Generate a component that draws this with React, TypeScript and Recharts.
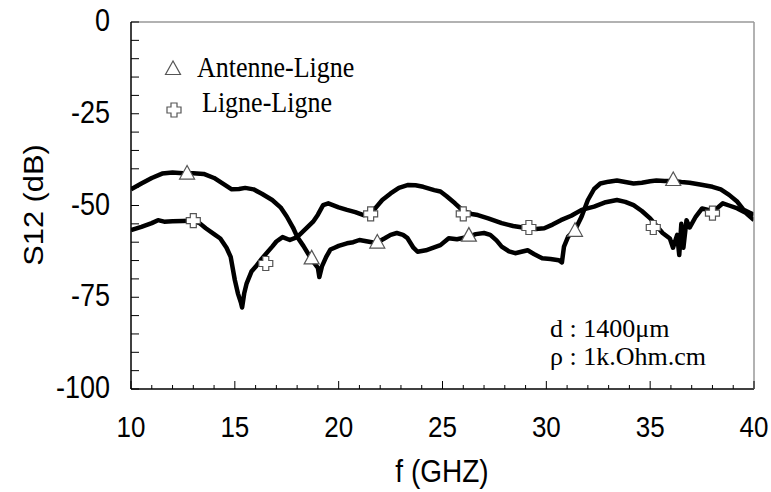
import React from 'react';
import { ComposedChart, Line, Scatter, XAxis, YAxis, Legend } from 'recharts';

// Curve A (Antenne-Ligne, triangles)
const freqA = [10.0,10.5,11.0,11.5,12.0,12.5,13.0,13.5,14.0,14.5,14.85,15.2,15.5,15.9,16.3,16.8,17.2,17.5,17.8,18.0,18.3,18.6,18.8,19.0,19.07,19.2,19.4,19.6,19.8,20.0,20.4,20.7,21.0,21.4,21.8,22.2,22.5,22.8,23.1,23.3,23.6,23.8,24.2,24.6,24.9,25.3,25.7,26.2,26.6,27.0,27.3,27.6,27.85,28.2,28.5,28.8,29.1,29.4,29.8,30.2,30.6,30.75,30.85,31.05,31.4,31.7,32.0,32.3,32.6,33.0,33.4,33.8,34.2,34.6,35.0,35.3,35.7,36.1,36.5,36.9,37.4,38.0,38.4,38.8,39.2,39.5,39.8,40.0];
const s12A = [-45.6,-44.0,-42.5,-41.3,-41.0,-41.2,-41.2,-41.4,-42.5,-44.3,-45.6,-45.5,-45.2,-45.6,-46.8,-48.5,-50.5,-53.0,-56.0,-58.5,-61.0,-63.8,-65.5,-67.0,-69.5,-66.5,-64.0,-62.0,-61.5,-61.0,-60.3,-60.0,-59.4,-59.8,-60.2,-59.0,-58.0,-57.5,-58.0,-58.8,-61.5,-62.6,-62.2,-61.4,-60.8,-58.9,-59.2,-58.6,-57.8,-57.5,-58.0,-59.5,-61.2,-62.5,-63.0,-62.6,-62.2,-63.2,-64.4,-64.6,-64.9,-65.5,-61.2,-58.5,-56.5,-53.0,-48.5,-45.5,-44.0,-43.5,-43.2,-43.6,-44.0,-43.8,-43.4,-43.2,-43.3,-43.3,-43.6,-43.8,-44.3,-44.9,-45.6,-47.1,-49.0,-51.2,-52.0,-52.5];

// Curve B (Ligne-Ligne, crosses)
const freqB = [10.0,10.5,11.0,11.3,11.6,12.0,12.5,13.0,13.3,13.6,14.0,14.3,14.6,14.8,15.0,15.15,15.3,15.35,15.45,15.57,15.8,16.0,16.3,16.6,16.8,17.0,17.3,17.65,18.0,18.3,18.77,19.0,19.25,19.5,20.0,20.4,20.8,21.2,21.5,21.8,22.1,22.5,22.9,23.35,23.7,24.07,24.6,24.9,25.2,25.6,26.0,26.4,26.7,27.2,27.85,28.4,29.1,29.5,29.9,30.3,30.7,31.2,31.7,32.3,32.8,33.4,33.8,34.2,34.6,35.0,35.3,35.6,35.95,36.1,36.3,36.4,36.5,36.6,36.75,36.9,37.2,37.5,37.8,38.0,38.5,38.8,39.2,39.6,40.0];
const s12B = [-56.7,-55.8,-54.8,-54.0,-54.4,-54.3,-54.2,-54.1,-54.8,-56.2,-57.8,-59.0,-61.5,-64.0,-70.3,-74.0,-76.6,-77.8,-74.0,-71.2,-68.0,-66.7,-64.5,-62.5,-61.2,-59.8,-58.6,-59.4,-58.6,-57.0,-54.4,-52.5,-49.9,-49.4,-50.5,-51.2,-51.8,-52.6,-52.3,-50.5,-48.5,-46.7,-45.2,-44.4,-44.5,-44.9,-45.8,-46.2,-47.5,-49.4,-51.5,-52.3,-52.6,-53.5,-54.8,-55.6,-56.2,-56.4,-56.2,-55.2,-54.0,-52.8,-51.2,-50.3,-49.2,-48.5,-49.0,-49.9,-51.5,-53.5,-55.5,-57.5,-59.0,-61.5,-58.0,-63.5,-55.0,-61.5,-54.0,-56.0,-53.0,-50.8,-51.2,-51.8,-49.4,-50.0,-50.8,-52.0,-54.0];

// Sparse symbol markers
const triFreq = [12.7, 18.7, 21.86, 26.27, 31.38, 36.11];
const triS12 = [-41.3, -64.4, -60.1, -58.2, -56.9, -43.05];
const crossFreq = [13.0, 16.49, 21.54, 26.0, 29.16, 35.15, 38.0];
const crossS12 = [-54.1, -65.8, -52.3, -52.3, -56.0, -56.0, -52.1];

// Axis ticks
const xTicks = [10,11,12,13,14,15,16,17,18,19,20,21,22,23,24,25,26,27,28,29,30,31,32,33,34,35,36,37,38,39,40];
const xLabelTicks = [10,15,20,25,30,35,40];
const yTicks = [0,-5,-10,-15,-20,-25,-30,-35,-40,-45,-50,-55,-60,-65,-70,-75,-80,-85,-90,-95,-100];
const yLabelTicks = [0,-25,-50,-75,-100];

const legendNames = ['Antenne-Ligne', 'Ligne-Ligne'];
const noteLines = ['d : 1400\u03bcm', '\u03c1 : 1k.Ohm.cm'];

const dataA = freqA.map((f, i) => ({ f, s: s12A[i] }));
const dataB = freqB.map((f, i) => ({ f, s: s12B[i] }));
const triData = triFreq.map((f, i) => ({ f, s: triS12[i] }));
const crossData = crossFreq.map((f, i) => ({ f, s: crossS12[i] }));

const SANS = '"Liberation Sans", Arial, sans-serif';
const SERIF = '"Liberation Serif", "Times New Roman", serif';
const STRETCH = 1.15;

const TriangleShape = (props: any) => {
  const { cx, cy } = props;
  if (cx == null || cy == null) return null;
  return (
    <polygon
      points={`${cx},${cy - 8} ${cx - 7.5},${cy + 5.5} ${cx + 7.5},${cy + 5.5}`}
      fill="#fff"
      stroke="#555"
      strokeWidth={1.2}
    />
  );
};

const CrossShape = (props: any) => {
  const { cx, cy } = props;
  if (cx == null || cy == null) return null;
  const a = 3, b = 7;
  const pts = [
    [-a, -b], [a, -b], [a, -a], [b, -a], [b, a], [a, a], [a, b], [-a, b], [-a, a], [-b, a], [-b, -a], [-a, -a],
  ].map(([dx, dy]) => `${cx + dx},${cy + dy}`).join(' ');
  return <polygon points={pts} fill="#fff" stroke="#555" strokeWidth={1.2} />;
};

const XTick = (props: any) => {
  const { x, y, payload } = props;
  const v = payload.value;
  const major = xLabelTicks.includes(v);
  return (
    <g>
      <line x1={x} y1={y} x2={x} y2={y - (major ? 8 : 4)} stroke="#000" strokeWidth={1} />
      {major && (
        <text
          x={0}
          y={0}
          transform={`translate(${x} ${y + 48}) scale(1 ${STRETCH})`}
          textAnchor="middle"
          fontFamily={SANS}
          fontSize={26}
          fill="#000"
        >
          {v}
        </text>
      )}
    </g>
  );
};

const YTick = (props: any) => {
  const { x, y, payload } = props;
  const v = payload.value;
  const labeled = yLabelTicks.includes(v);
  return (
    <g>
      <line x1={x} y1={y} x2={x + 8} y2={y} stroke="#000" strokeWidth={1} />
      {labeled && (
        <text
          x={0}
          y={0}
          dy="0.36em"
          transform={`translate(${x - 21} ${y - 2}) scale(1 ${STRETCH})`}
          textAnchor="end"
          fontFamily={SANS}
          fontSize={27}
          fill="#000"
        >
          {v}
        </text>
      )}
    </g>
  );
};

const renderLegend = () => (
  <svg width={240} height={80} style={{ display: 'block' }}>
    <TriangleShape cx={18} cy={19} />
    <text x={0} y={0} transform={`translate(42 27) scale(1 1.1)`} fontFamily={SERIF} fontSize={26} fill="#000">{legendNames[0]}</text>
    <CrossShape cx={19} cy={60} />
    <text x={0} y={0} transform={`translate(47 62) scale(1 1.1)`} fontFamily={SERIF} fontSize={26} fill="#000">{legendNames[1]}</text>
  </svg>
);

export default function App() {
  return (
    <div style={{ position: 'absolute', left: 0, top: 0, width: 771, height: 492, background: '#fff' }}>
      <ComposedChart
        width={771}
        height={492}
        margin={{ top: 21, right: 16, bottom: 102, left: 130 }}
      >
        <XAxis
          type="number"
          dataKey="f"
          domain={[10, 40]}
          ticks={xTicks}
          interval={0}
          height={1}
          tickSize={0}
          tickMargin={0}
          tickLine={false}
          axisLine={{ stroke: '#000', strokeWidth: 1.5 }}
          tick={<XTick />}
          allowDataOverflow
        />
        <XAxis
          xAxisId="top"
          orientation="top"
          type="number"
          domain={[10, 40]}
          height={1}
          tick={false}
          tickLine={false}
          axisLine={{ stroke: '#999', strokeWidth: 1.5 }}
        />
        <YAxis
          type="number"
          domain={[-100, 0]}
          ticks={yTicks}
          interval={0}
          width={1}
          tickSize={0}
          tickMargin={0}
          tickLine={false}
          axisLine={{ stroke: '#000', strokeWidth: 1.5 }}
          tick={<YTick />}
          allowDataOverflow
        />
        <YAxis
          yAxisId="right"
          orientation="right"
          type="number"
          domain={[-100, 0]}
          width={1}
          tick={false}
          tickLine={false}
          axisLine={{ stroke: '#999', strokeWidth: 1.5 }}
        />
        <Legend
          layout="vertical"
          align="center"
          verticalAlign="middle"
          wrapperStyle={{ position: 'absolute', left: 155, top: 50, width: 240, height: 80 }}
          content={renderLegend}
        />
        <Line
          data={dataA}
          dataKey="s"
          name={legendNames[0]}
          type="linear"
          stroke="#000"
          strokeWidth={4.5}
          strokeLinejoin="round"
          dot={false}
          activeDot={false}
          isAnimationActive={false}
        />
        <Line
          data={dataB}
          dataKey="s"
          name={legendNames[1]}
          type="linear"
          stroke="#000"
          strokeWidth={4.5}
          strokeLinejoin="round"
          dot={false}
          activeDot={false}
          isAnimationActive={false}
        />
        <Scatter data={triData} dataKey="s" shape={<TriangleShape />} isAnimationActive={false} legendType="none" />
        <Scatter data={crossData} dataKey="s" shape={<CrossShape />} isAnimationActive={false} legendType="none" />
      </ComposedChart>
      <svg width={771} height={492} style={{ position: 'absolute', left: 0, top: 0, pointerEvents: 'none' }}>
        <text x={0} y={0} transform="translate(43 205) rotate(-90) scale(1.1 1)" textAnchor="middle" fontFamily={SANS} fontSize={28} fill="#000">
          S12 (dB)
        </text>
        <text x={0} y={0} transform={`translate(442 482) scale(1 ${STRETCH})`} textAnchor="middle" fontFamily={SANS} fontSize={28} fill="#000">
          f (GHZ)
        </text>
        <text x={550} y={337} fontFamily={SERIF} fontSize={26} fill="#000">{noteLines[0]}</text>
        <text x={550} y={365} fontFamily={SERIF} fontSize={26} fill="#000">{noteLines[1]}</text>
      </svg>
    </div>
  );
}
